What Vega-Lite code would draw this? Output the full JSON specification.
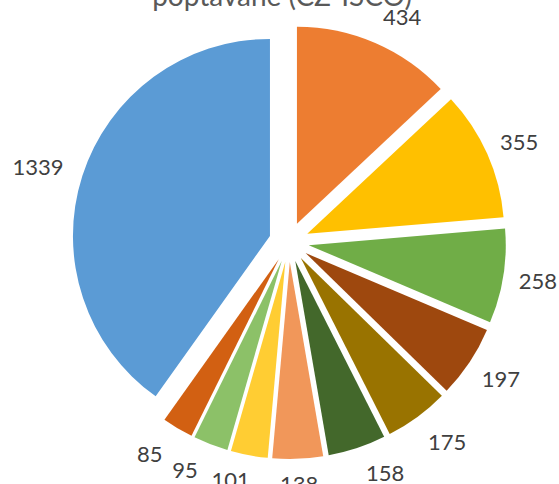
{
  "$schema": "https://vega.github.io/schema/vega-lite/v6.json",
  "width": 540,
  "height": 484,
  "autosize": {"type": "none"},
  "padding": {"left": 19, "top": 0, "right": 0, "bottom": 0},
  "background": "white",
  "title": {
    "text": "poptávané (CZ-ISCO)",
    "font": "Lato",
    "fontSize": 28,
    "fontWeight": "normal",
    "color": "#595959",
    "anchor": "middle",
    "frame": "group",
    "baseline": "alphabetic",
    "offset": -34,
    "dx": -7
  },
  "data": {
    "values": [
      {"skupina": "A", "poradi": 1, "pocet": 434},
      {"skupina": "B", "poradi": 2, "pocet": 355},
      {"skupina": "C", "poradi": 3, "pocet": 258},
      {"skupina": "D", "poradi": 4, "pocet": 197},
      {"skupina": "E", "poradi": 5, "pocet": 175},
      {"skupina": "F", "poradi": 6, "pocet": 158},
      {"skupina": "G", "poradi": 7, "pocet": 138},
      {"skupina": "H", "poradi": 8, "pocet": 101},
      {"skupina": "I", "poradi": 9, "pocet": 95},
      {"skupina": "J", "poradi": 10, "pocet": 85},
      {"skupina": "K", "poradi": 11, "pocet": 1339}
    ]
  },
  "encoding": {
    "theta": {"field": "pocet", "type": "quantitative", "stack": true},
    "order": {"field": "poradi", "type": "quantitative"}
  },
  "layer": [
    {
      "mark": {
        "type": "arc",
        "outerRadius": 197,
        "xOffset": {"expr": "20*sin((scale('theta', datum.pocet_start)+scale('theta', datum.pocet_end))/2)"},
        "yOffset": {"expr": "-20*cos((scale('theta', datum.pocet_start)+scale('theta', datum.pocet_end))/2)"}
      },
      "encoding": {
        "color": {
          "field": "skupina",
          "type": "nominal",
          "legend": null,
          "scale": {
            "domain": ["A","B","C","D","E","F","G","H","I","J","K"],
            "range": ["#ED7D31","#FFC000","#70AD47","#9E480E","#997300","#43682B","#F1975A","#FFCD33","#8CC168","#D26012","#5B9BD5"]
          }
        }
      }
    },
    {
      "mark": {
        "type": "text",
        "radius": 252,
        "font": "Lato",
        "fontSize": 22,
        "color": "#404040",
        "align": "center",
        "baseline": "middle",
        "dx": {"expr": "datum.pocet == 434 ? 13 : datum.pocet == 1339 ? -11 : datum.pocet == 158 ? 17 : datum.pocet == 95 ? -13 : datum.pocet == 101 ? -12 : datum.pocet == 85 ? -10 : datum.pocet == 175 ? 9 : datum.pocet == 197 ? 2 : 0"},
        "dy": {"expr": "datum.pocet == 434 ? 7 : datum.pocet == 1339 ? 3 : datum.pocet == 158 ? -7 : datum.pocet == 95 ? -6 : datum.pocet == 101 ? -9 : datum.pocet == 85 ? -3 : datum.pocet == 138 ? -9 : datum.pocet == 175 ? -2 : datum.pocet == 197 ? -2 : datum.pocet == 355 ? 3 : 0"}
      },
      "encoding": {
        "text": {"field": "pocet", "type": "quantitative"}
      }
    }
  ],
  "config": {"view": {"stroke": null}}
}
